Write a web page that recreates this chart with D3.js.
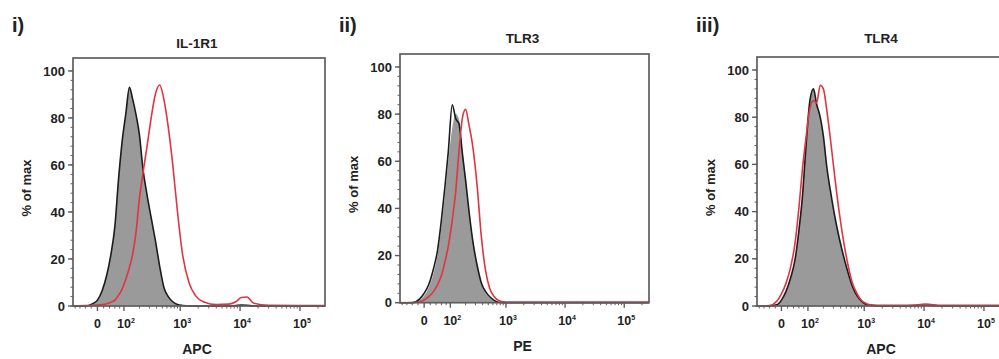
<!DOCTYPE html>
<html>
<head>
<meta charset="utf-8">
<script src="https://cdn.jsdelivr.net/npm/d3@7"></script>
<style>
  body { margin: 0; background: #fff; }
  svg text { font-family: "Liberation Sans", Arial, sans-serif; font-weight: bold; fill: #222; }
</style>
</head>
<body>
<svg id="chart" width="999" height="359"></svg>
<script>
// fluorescence channels (raw intensity) shared by every histogram
const channels = [-90, -40, -15, 0, 15, 30, 45, 60, 75, 90, 110, 130, 150, 175, 200, 230, 270, 320, 380, 450,
  530, 630, 750, 900, 1100, 1400, 1800, 2500, 4000, 6500, 8500, 10500, 13000, 17000, 30000, 100000, 262144];

// % of max, one value per channel
const il1r1Shaded = [0, 0, 1, 2.5, 6.5, 13, 22, 34, 54, 69, 82, 93, 88, 81, 73, 59, 48, 38, 28, 17,
  8, 4, 1.8, 0.6, 0.2, 0, 0, 0, 0, 0, 0.2, 0.4, 0.3, 0, 0, 0, 0];
const il1r1Red = [0, 0.2, 0.3, 0.4, 0.6, 1, 1.6, 2.5, 4.5, 7, 11.5, 16.5, 22, 32, 45.5, 56, 67, 79.5, 90, 94,
  88, 76, 60, 40, 21.5, 10, 4.4, 1.7, 0.6, 0.8, 1.8, 3.6, 3.8, 1.2, 0.3, 0.2, 0.2];

const tlr3Shaded = [0, 0, 1, 3, 6.5, 12, 20, 32, 46, 60, 74, 80, 78, 64, 53, 40, 27, 16, 8, 4,
  2, 0.8, 0.2, 0, 0, 0, 0, 0, 0, 0, 0, 0, 0, 0, 0, 0, 0];
const tlr3Black = [0, 0, 1.5, 4, 7.7, 14, 22, 35, 49.5, 64, 84, 78, 76, 63, 52, 39, 26, 16, 8.4, 4.7,
  2.5, 1, 0.2, 0, 0, 0, 0, 0, 0, 0, 0, 0, 0, 0, 0, 0, 0];
const tlr3Red = [0, 0.1, 0.3, 1.2, 2.6, 4.6, 7.5, 11.5, 17.4, 24, 35, 47.5, 64, 78.5, 82, 75.5, 66, 50, 28, 13.5,
  6, 2.6, 0.9, 0.4, 0.3, 0.3, 0.3, 0.3, 0.3, 0.3, 0.3, 0.3, 0.3, 0.3, 0.3, 0.3, 0.3];

const tlr4Shaded = [0, 0, 0.5, 2.5, 6.3, 12, 19.4, 32, 47, 67, 87, 92, 85.5, 80, 72, 59, 48, 37.5, 28.6, 21,
  14.5, 8.5, 4.5, 2, 0.5, 0.2, 0, 0, 0, 0.1, 0.3, 0.5, 0.3, 0.1, 0, 0, 0];
const tlr4Red = [0, 0.2, 2, 5.1, 9.8, 16.5, 26.3, 41.6, 58.4, 70.8, 83.7, 87, 86, 93.5, 92, 83, 69.6, 54, 39.4, 27.3,
  17.7, 9.9, 5.5, 2.3, 1, 0.4, 0.3, 0.3, 0.3, 0.4, 0.6, 0.8, 0.6, 0.3, 0.3, 0.3, 0.3];

const yTicks = [0, 20, 40, 60, 80, 100];
const xTicks = [0, 1e2, 1e3, 1e4, 1e5];
const xMinorTicks = [-80, -60, -40, -20, 20, 40, 60, 80, 200, 300, 400, 500, 600, 700, 800, 900,
  2000, 3000, 4000, 5000, 6000, 7000, 8000, 9000, 20000, 30000, 40000, 50000, 60000, 70000, 80000, 90000, 200000];

const panels = [
  { tag: 'i)', title: 'IL-1R1', marker: 'APC', shaded: il1r1Shaded, black: il1r1Shaded, red: il1r1Red,
    left: 73, top: 58, width: 252, bottom: 306, titleY: 48 },
  { tag: 'ii)', title: 'TLR3', marker: 'PE', shaded: tlr3Shaded, black: tlr3Black, red: tlr3Red,
    left: 400, top: 54, width: 249, bottom: 302.7, titleY: 43 },
  { tag: 'iii)', title: 'TLR4', marker: 'APC', shaded: tlr4Shaded, black: tlr4Shaded, red: tlr4Red,
    left: 757, top: 57, width: 252, bottom: 306, titleY: 43 },
];

const svg = d3.select('#chart');
const biex = (v) => Math.asinh(v / 83);
const frameColor = '#5e5e5e';

function drawPanel(p) {
  const g = svg.append('g').attr('transform', `translate(${p.left},0)`);
  const xT = d3.scaleLinear().domain([biex(-90), biex(262144)]).range([0, p.width]);
  const x = (v) => xT(biex(v));
  const y = d3.scaleLinear().domain([0, 105.5]).range([p.bottom, p.top]);

  const pts = (vals) => channels.map((c, i) => [c, vals[i]]);

  // shaded histogram
  g.append('path')
    .datum(pts(p.shaded))
    .attr('fill', '#9a9a9a')
    .attr('d', d3.area().curve(d3.curveMonotoneX).x((d) => x(d[0])).y0(y(0)).y1((d) => y(d[1])));

  const line = d3.line().curve(d3.curveMonotoneX).x((d) => x(d[0])).y((d) => y(d[1]));
  g.append('path').datum(pts(p.black))
    .attr('fill', 'none').attr('stroke', '#1c1c1c').attr('stroke-width', 1.6).attr('d', line);
  g.append('path').datum(pts(p.red))
    .attr('fill', 'none').attr('stroke', '#e0353f').attr('stroke-width', 1.6).attr('d', line);

  // frame
  g.append('rect')
    .attr('x', 0).attr('y', p.top).attr('width', p.width).attr('height', p.bottom - p.top)
    .attr('fill', 'none').attr('stroke', frameColor).attr('stroke-width', 1.7);

  // y axis
  const yAxis = g.append('g');
  yAxis.selectAll('line.minor')
    .data(d3.range(0, 101, 4))
    .enter().append('line')
    .attr('class', 'minor')
    .attr('x1', -2.5).attr('x2', 0)
    .attr('y1', (d) => y(d)).attr('y2', (d) => y(d))
    .attr('stroke', frameColor).attr('stroke-width', 1);
  yAxis.selectAll('line.major')
    .data(yTicks)
    .enter().append('line')
    .attr('class', 'major')
    .attr('x1', -5).attr('x2', 0)
    .attr('y1', (d) => y(d)).attr('y2', (d) => y(d))
    .attr('stroke', frameColor).attr('stroke-width', 1.4);
  yAxis.selectAll('text')
    .data(yTicks)
    .enter().append('text')
    .attr('x', -8).attr('y', (d) => y(d)).attr('dy', '0.36em')
    .attr('text-anchor', 'end').style('font-size', '13px')
    .text((d) => d);

  // x axis
  const xAxis = g.append('g');
  xAxis.selectAll('line.minor')
    .data(xMinorTicks)
    .enter().append('line')
    .attr('class', 'minor')
    .attr('x1', (d) => x(d)).attr('x2', (d) => x(d))
    .attr('y1', p.bottom).attr('y2', p.bottom + 2.5)
    .attr('stroke', frameColor).attr('stroke-width', 1);
  xAxis.selectAll('line.major')
    .data(xTicks)
    .enter().append('line')
    .attr('class', 'major')
    .attr('x1', (d) => x(d)).attr('x2', (d) => x(d))
    .attr('y1', p.bottom).attr('y2', p.bottom + 5)
    .attr('stroke', frameColor).attr('stroke-width', 1.4);
  const labels = xAxis.selectAll('text')
    .data(xTicks)
    .enter().append('text')
    .attr('x', (d) => x(d) + (d > 0 ? 2 : 0)).attr('y', p.bottom + 22)
    .attr('text-anchor', 'middle').style('font-size', '12.5px');
  labels.filter((d) => d === 0).text('0');
  labels.filter((d) => d > 0).each(function (d) {
    const t = d3.select(this);
    t.append('tspan').text('10');
    t.append('tspan').attr('dy', -5).style('font-size', '7px').text(Math.round(Math.log10(d)));
  });

  // titles and labels
  g.append('text')
    .attr('x', p.width / 2 - 2).attr('y', p.titleY)
    .attr('text-anchor', 'middle').style('font-size', '13.5px')
    .text(p.title);
  g.append('text')
    .attr('x', p.width / 2 - 2).attr('y', p.bottom + 48)
    .attr('text-anchor', 'middle').style('font-size', '14px')
    .text(p.marker);
  g.append('text')
    .attr('transform', `translate(${-42},${(p.top + p.bottom) / 2 + 6}) rotate(-90)`)
    .attr('text-anchor', 'middle').style('font-size', '13px')
    .text('% of max');
  g.append('text')
    .attr('x', -61).attr('y', 32)
    .style('font-size', '20px')
    .text(p.tag);
}

panels.forEach(drawPanel);
</script>
</body>
</html>
